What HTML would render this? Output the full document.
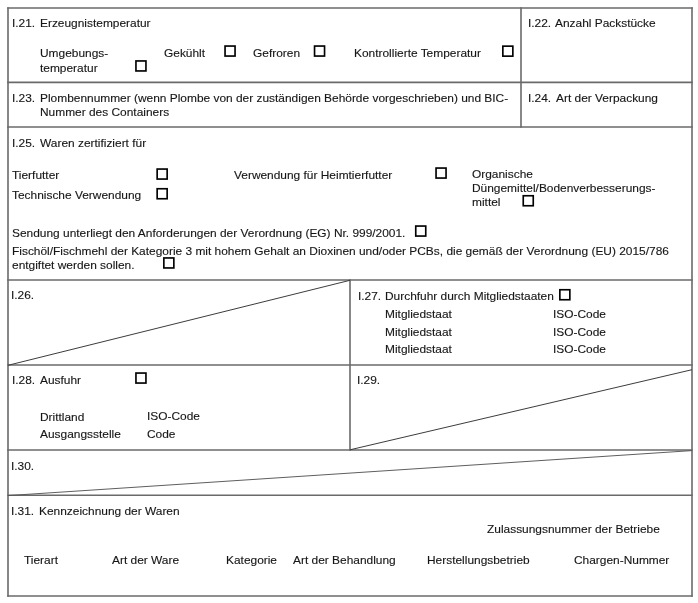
<!DOCTYPE html>
<html><head><meta charset="utf-8"><style>
html,body{margin:0;padding:0;background:#fff;}
body{width:698px;height:603px;position:relative;overflow:hidden;}
.t{position:absolute;will-change:transform;font-family:"Liberation Sans",sans-serif;font-size:11px;line-height:14px;white-space:nowrap;color:#161616;transform:scaleX(1.083);transform-origin:0 0;-webkit-text-stroke:0.12px #161616;}
svg{position:absolute;left:0;top:0;}
</style></head><body>
<svg width="698" height="603" viewBox="0 0 698 603">
<g stroke="#6a6a6a" stroke-width="1.6" fill="none">
<line x1="7.2" y1="8" x2="692.8" y2="8"/><line x1="7.2" y1="82.4" x2="692.8" y2="82.4"/><line x1="7.2" y1="127" x2="692.8" y2="127"/><line x1="7.2" y1="280" x2="692.8" y2="280"/><line x1="7.2" y1="365" x2="692.8" y2="365"/><line x1="7.2" y1="450" x2="692.8" y2="450"/><line x1="7.2" y1="495.3" x2="692.8" y2="495.3"/><line x1="7.2" y1="596" x2="692.8" y2="596"/><line x1="8" y1="7.2" x2="8" y2="596.8"/><line x1="692" y1="7.2" x2="692" y2="596.8"/><line x1="521" y1="7.2" x2="521" y2="127.8"/><line x1="350" y1="279.2" x2="350" y2="450.8"/>
</g>
<g stroke="#3c3c3c" stroke-width="1.0" fill="none">
<line x1="8" y1="365.3" x2="350" y2="280.3"/><line x1="350" y1="449.8" x2="692" y2="369.7"/><line x1="8" y1="495.6" x2="692" y2="450.6" stroke="#555" stroke-width="0.95"/>
</g>
<g stroke="#000" stroke-width="1.65" fill="none">
<rect x="135.95" y="60.95" width="10.0" height="10.0"/><rect x="225.05" y="46.05" width="10.0" height="10.0"/><rect x="314.55" y="46.05" width="10.0" height="10.0"/><rect x="502.85" y="46.15" width="10.0" height="10.0"/><rect x="157.15" y="169.05" width="10.0" height="10.0"/><rect x="157.15" y="188.75" width="10.0" height="10.0"/><rect x="436.05" y="168.05" width="10.0" height="10.0"/><rect x="523.25" y="195.75" width="10.0" height="10.0"/><rect x="415.75" y="226.05" width="10.0" height="10.0"/><rect x="163.85" y="257.95" width="10.0" height="10.0"/><rect x="559.85" y="289.75" width="10.0" height="10.0"/><rect x="135.95" y="373.05" width="10.0" height="10.0"/>
</g>
</svg>
<div class="t" style="left:11.85px;top:16.2px">I.21.</div>
<div class="t" style="left:39.85px;top:16.2px">Erzeugnistemperatur</div>
<div class="t" style="left:39.85px;top:45.5px">Umgebungs-</div>
<div class="t" style="left:39.85px;top:60.5px">temperatur</div>
<div class="t" style="left:164.35px;top:46.0px">Gekühlt</div>
<div class="t" style="left:253.35px;top:46.0px">Gefroren</div>
<div class="t" style="left:353.85px;top:45.8px">Kontrollierte Temperatur</div>
<div class="t" style="left:528.35px;top:16.3px">I.22.</div>
<div class="t" style="left:555.15px;top:16.3px">Anzahl Packstücke</div>
<div class="t" style="left:11.85px;top:91.1px">I.23.</div>
<div class="t" style="left:39.85px;top:91.1px">Plombennummer (wenn Plombe von der zuständigen Behörde vorgeschrieben) und BIC-</div>
<div class="t" style="left:39.85px;top:104.5px">Nummer des Containers</div>
<div class="t" style="left:528.35px;top:90.7px">I.24.</div>
<div class="t" style="left:555.85px;top:90.7px">Art der Verpackung</div>
<div class="t" style="left:11.85px;top:135.8px">I.25.</div>
<div class="t" style="left:40.05px;top:135.6px">Waren zertifiziert für</div>
<div class="t" style="left:12.05px;top:168.1px">Tierfutter</div>
<div class="t" style="left:12.05px;top:188.2px">Technische Verwendung</div>
<div class="t" style="left:233.65px;top:168.1px">Verwendung für Heimtierfutter</div>
<div class="t" style="left:472.15px;top:166.8px">Organische</div>
<div class="t" style="left:472.15px;top:180.9px">Düngemittel/Bodenverbesserungs-</div>
<div class="t" style="left:472.15px;top:195.0px">mittel</div>
<div class="t" style="left:11.65px;top:226.0px">Sendung unterliegt den Anforderungen der Verordnung (EG) Nr. 999/2001.</div>
<div class="t" style="left:11.65px;top:244.0px">Fischöl/Fischmehl der Kategorie 3 mit hohem Gehalt an Dioxinen und/oder PCBs, die gemäß der Verordnung (EU) 2015/786</div>
<div class="t" style="left:11.65px;top:258.0px">entgiftet werden sollen.</div>
<div class="t" style="left:11.35px;top:288.1px">I.26.</div>
<div class="t" style="left:357.55px;top:289.0px">I.27.</div>
<div class="t" style="left:385.15px;top:289.0px">Durchfuhr durch Mitgliedstaaten</div>
<div class="t" style="left:385.15px;top:307.2px">Mitgliedstaat</div>
<div class="t" style="left:385.15px;top:324.7px">Mitgliedstaat</div>
<div class="t" style="left:385.15px;top:341.9px">Mitgliedstaat</div>
<div class="t" style="left:553.35px;top:307.2px">ISO-Code</div>
<div class="t" style="left:553.35px;top:324.7px">ISO-Code</div>
<div class="t" style="left:553.35px;top:341.9px">ISO-Code</div>
<div class="t" style="left:11.85px;top:373.0px">I.28.</div>
<div class="t" style="left:39.85px;top:372.7px">Ausfuhr</div>
<div class="t" style="left:39.85px;top:409.6px">Drittland</div>
<div class="t" style="left:39.85px;top:427.4px">Ausgangsstelle</div>
<div class="t" style="left:146.85px;top:409.3px">ISO-Code</div>
<div class="t" style="left:146.85px;top:427.4px">Code</div>
<div class="t" style="left:356.85px;top:373.3px">I.29.</div>
<div class="t" style="left:11.05px;top:458.6px">I.30.</div>
<div class="t" style="left:11.45px;top:504.20000000000005px">I.31.</div>
<div class="t" style="left:39.25px;top:504.20000000000005px">Kennzeichnung der Waren</div>
<div class="t" style="left:487.35px;top:522.0px">Zulassungsnummer der Betriebe</div>
<div class="t" style="left:24.35px;top:553.0px">Tierart</div>
<div class="t" style="left:111.55px;top:553.0px">Art der Ware</div>
<div class="t" style="left:225.55px;top:552.5px">Kategorie</div>
<div class="t" style="left:293.35px;top:553.0px">Art der Behandlung</div>
<div class="t" style="left:426.85px;top:553.0px">Herstellungsbetrieb</div>
<div class="t" style="left:573.95px;top:553.0px">Chargen-Nummer</div>
</body></html>
